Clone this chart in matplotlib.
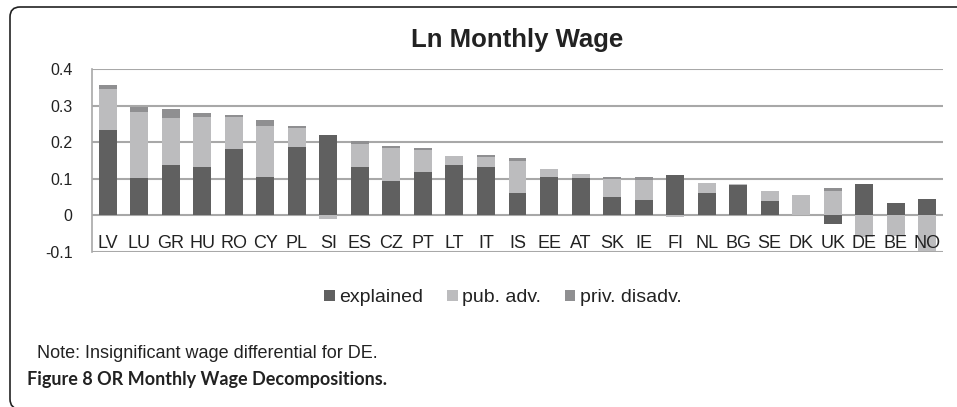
import matplotlib
matplotlib.use("Agg")
import matplotlib.pyplot as plt
import numpy as np
from matplotlib.patches import FancyBboxPatch

plt.rcParams['font.family'] = ['Liberation Sans', 'DejaVu Sans']

countries = ["LV", "LU", "GR", "HU", "RO", "CY", "PL", "SI", "ES", "CZ", "PT", "LT", "IT", "IS",
             "EE", "AT", "SK", "IE", "FI", "NL", "BG", "SE", "DK", "UK", "DE", "BE", "NO"]
explained = [0.233, 0.101, 0.137, 0.132, 0.182, 0.105, 0.186, 0.220, 0.133, 0.093, 0.118, 0.137,
             0.132, 0.060, 0.105, 0.102, 0.050, 0.042, 0.110, 0.061, 0.084, 0.039, 0.000, -0.024,
             0.085, 0.033, 0.044]
pub_adv = [0.112, 0.182, 0.129, 0.137, 0.087, 0.140, 0.053, -0.011, 0.061, 0.091, 0.060, 0.026,
           0.027, 0.089, 0.021, 0.011, 0.050, 0.056, -0.005, 0.028, 0.002, 0.029, 0.055, 0.067,
           -0.058, -0.057, -0.097]
priv_disadv = [0.012, 0.012, 0.024, 0.012, 0.005, 0.017, 0.004, 0.000, 0.009, 0.006, 0.007, 0.000,
               0.005, 0.007, 0.000, 0.000, 0.005, 0.007, 0.000, 0.000, 0.000, 0.000, 0.000, 0.008,
               0.000, 0.000, 0.000]
series_names = ["explained", "pub. adv.", "priv. disadv."]
colors = ["#606060", "#bcbcbe", "#8f8f91"]
yticks = [-0.1, 0, 0.1, 0.2, 0.3, 0.4]
ytick_labels = ["-0.1", "0", "0.1", "0.2", "0.3", "0.4"]

W, H = 957, 407
fig = plt.figure(figsize=(W / 100, H / 100), dpi=100)
ax = fig.add_axes([92 / W, (H - 252) / H, (943 - 92) / W, (252 - 69) / H])

x = np.arange(len(countries))
pos_base = np.zeros(len(countries))
neg_base = np.zeros(len(countries))
handles = []
for vals, name, c in zip([explained, pub_adv, priv_disadv], series_names, colors):
    v = np.array(vals)
    bottom = np.where(v >= 0, pos_base, neg_base)
    h = ax.bar(x, v, bottom=bottom, width=0.57, color=c, label=name, zorder=3)
    handles.append(h)
    pos_base = pos_base + np.where(v >= 0, v, 0)
    neg_base = neg_base + np.where(v < 0, v, 0)

ax.set_xlim(-0.5, len(countries) - 0.5)
ax.set_ylim(-0.1, 0.4)
ax.set_yticks(yticks)
ax.set_yticklabels(ytick_labels, fontsize=11.5, color="#222222")
ax.yaxis.grid(True, color="#a8a8a8", linewidth=1.5, zorder=0)
ax.set_axisbelow(True)
for s in ["top", "right", "bottom"]:
    ax.spines[s].set_visible(False)
ax.spines["left"].set_color("#a8a8a8")
ax.spines["left"].set_linewidth(1.2)
ax.tick_params(axis="y", length=0, pad=14)
ax.set_xticks(x)
ax.set_xticklabels([])
ax.tick_params(axis="x", length=0)
for xi, lab in zip(x, countries):
    ax.text(xi, -0.076, lab, ha="center", va="center", fontsize=13, color="#222222", zorder=4)

fig.text((92 + 943) / 2 / W, (H - 46.7) / H, "Ln Monthly Wage", ha="center", va="baseline",
         fontsize=18.5, fontweight="bold", color="#222222")

leg = fig.legend(handles=handles, labels=series_names, loc="center", ncol=3,
                 bbox_to_anchor=(503 / W, (H - 298) / H), frameon=False, fontsize=14,
                 handlelength=0.55, handleheight=0.55, handletextpad=0.25, columnspacing=1.2)
for t in leg.get_texts():
    t.set_color("#222222")

fig.text(37 / W, (H - 357.5) / H, "Note: Insignificant wage differential for DE.", ha="left",
         va="baseline", fontsize=13, color="#222222")
fig.text(27 / W, (H - 385) / H, "Figure 8 OR Monthly Wage Decompositions.", ha="left",
         va="baseline", fontsize=13, fontweight="bold", color="#222222", family=["Lato", "DejaVu Sans"])

frame = FancyBboxPatch((10, -2), 1000, 402, boxstyle="round,pad=0,rounding_size=10",
                       transform=None, fill=False, edgecolor="#222222", linewidth=1.2)
fig.patches.append(frame)

fig.savefig("out.png", dpi=100)
